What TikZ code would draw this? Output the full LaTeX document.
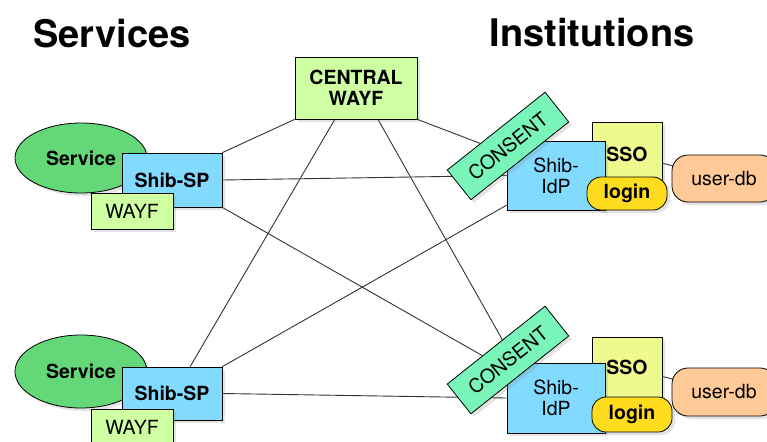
\documentclass[tikz,border=0pt]{standalone}
\usepackage{fontspec}
\setmainfont{TeX Gyre Heros}
\usetikzlibrary{shapes.geometric,shadows,backgrounds}
\definecolor{svcgreen}{RGB}{100,216,120}
\definecolor{spblue}{RGB}{130,218,255}
\definecolor{wayfgreen}{RGB}{206,255,162}
\definecolor{consentgreen}{RGB}{122,245,186}
\definecolor{ssoyellow}{RGB}{238,250,142}
\definecolor{loginyellow}{RGB}{255,220,30}
\definecolor{userdbpeach}{RGB}{255,202,152}

\begin{document}
\begin{tikzpicture}[x=1pt,y=-1pt,
    every node/.style={font=\fontsize{19.5}{21}\selectfont},
    box/.style={draw=black,line width=0.8pt,inner sep=2pt,
      drop shadow={shadow xshift=3pt,shadow yshift=-3pt,opacity=0.22}},
    bold/.style={font=\fontsize{19.5}{21}\selectfont\bfseries},
    heading/.style={font=\fontsize{38}{40}\selectfont\bfseries},
    link/.style={draw=black!80,line width=0.9pt}]
  \useasboundingbox (0,0) rectangle (767,441);
  \clip (0,0) rectangle (767,441);
  \node[heading] (services) at (112,34) {Services};
  \node[heading] (institutions) at (592,33) {Institutions};
  \node[box,bold,fill=wayfgreen,minimum width=122,minimum height=62,align=center] (central) at (356,88) {CENTRAL\\WAYF};
  % services
  \node[box,bold,ellipse,fill=svcgreen,minimum width=132,minimum height=70] (svc1) at (81,158) {Service};
  \node[box,bold,fill=spblue,minimum width=100,minimum height=54] (sp1) at (172,180) {Shib-SP};
  \node[box,fill=wayfgreen,minimum width=82,minimum height=36] (wayf1) at (132,211) {WAYF};
  \node[box,bold,ellipse,fill=svcgreen,minimum width=132,minimum height=73] (svc2) at (81,371.5) {Service};
  \node[box,bold,fill=spblue,minimum width=100,minimum height=53] (sp2) at (172,393.5) {Shib-SP};
  \node[box,fill=wayfgreen,minimum width=82,minimum height=37] (wayf2) at (132,427.5) {WAYF};
  % institutions
  \node[box,bold,fill=ssoyellow,minimum width=70,minimum height=65] (sso1) at (627,154.5) {SSO};
  \node[box,fill=spblue,minimum width=98,minimum height=69,align=center] (idp1) at (556,175.5) {Shib-\\IdP};
  \node[box,bold,fill=loginyellow,rounded corners=14pt,minimum width=80,minimum height=33] (login1) at (627,193.5) {login};
  \node[box,fill=consentgreen,rotate=38.5,minimum width=125,minimum height=38] (consent1) at (508,146) {CONSENT};
  \node[box,fill=userdbpeach,rounded corners=16pt,minimum width=104,minimum height=47] (userdb1) at (724,178.5) {user-db};
  \node[box,bold,fill=ssoyellow,minimum width=70,minimum height=61] (sso2) at (627,367.5) {SSO};
  \node[box,fill=spblue,minimum width=98,minimum height=70,align=center] (idp2) at (556,398) {Shib-\\IdP};
  \node[box,bold,fill=loginyellow,rounded corners=14pt,minimum width=80,minimum height=35] (login2) at (632,414.5) {login};
  \node[box,fill=consentgreen,rotate=38.5,minimum width=125,minimum height=38] (consent2) at (508,360) {CONSENT};
  \node[box,fill=userdbpeach,rounded corners=16pt,minimum width=104,minimum height=48] (userdb2) at (724,392) {user-db};
  \begin{scope}[on background layer]
    \draw[link] (sp1.north east) -- (central.south west);
    \draw[link] (sp2.56) -- (central.236);
    \draw[link] (central.south east) -- (idp1.156);
    \draw[link] (central.305) -- (idp2.139);
    \draw[link] (sp1.east) -- (idp1.west);
    \draw[link] (sp1.south east) -- (idp2.150);
    \draw[link] (sp2.north east) -- (idp1.211);
    \draw[link] (sp2.east) -- (idp2.west);
    \draw[link] (sso1.center) -- (userdb1.center);
    \draw[link] (sso2.center) -- (userdb2.center);
  \end{scope}
\end{tikzpicture}
\end{document}
